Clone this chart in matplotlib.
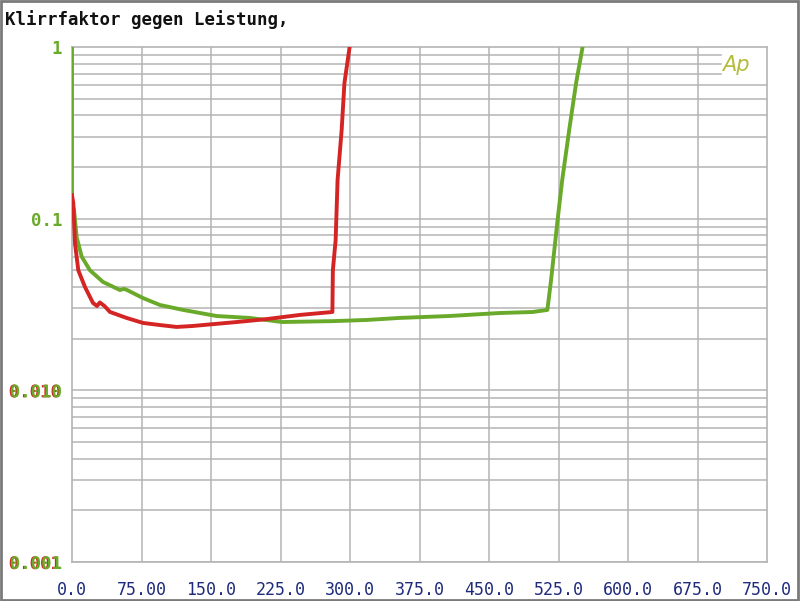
import matplotlib
matplotlib.use("Agg")
import matplotlib.pyplot as plt
import matplotlib.patheffects as pe
from matplotlib.patches import Rectangle
import numpy as np

# Data (power in W, THD as fraction)
red_x = [0, 1.4, 3.2, 6.8, 14, 22.6, 27, 30, 35, 41, 59, 76.5, 95, 113, 130, 156, 178, 210, 246, 281,
         281.5, 284.5, 286.6, 291, 294, 299.6]
red_y = [0.137, 0.123, 0.072, 0.050, 0.040, 0.0323, 0.031, 0.0325, 0.031, 0.0286, 0.0264, 0.0247, 0.0240,
         0.0234, 0.0237, 0.0244, 0.025, 0.026, 0.0275, 0.0286,
         0.050, 0.075, 0.168, 0.329, 0.617, 1.0]

green_x = [0, 0, 2.2, 5, 10.5, 19.4, 33.4, 51.7, 56, 59, 76.5, 95, 120, 156, 192, 227, 281, 318, 353,
           407, 461, 497, 513, 517, 524, 529, 537, 544, 551]
green_y = [1.0, 0.125, 0.112, 0.078, 0.060, 0.050, 0.0428, 0.0384, 0.0390, 0.0385, 0.0345, 0.0314, 0.0294,
           0.0271, 0.0264, 0.0250, 0.0253, 0.0257, 0.0264, 0.0271, 0.0282, 0.0286, 0.0294,
           0.044, 0.098, 0.168, 0.342, 0.617, 1.0]

x_ticks = [0, 75, 150, 225, 300, 375, 450, 525, 600, 675, 750]
x_labels = ["0.0", "75.00", "150.0", "225.0", "300.0", "375.0", "450.0", "525.0", "600.0", "675.0", "750.0"]
y_ticks = [1, 0.1, 0.01, 0.001]
y_labels = ["1", "0.1", "0.010", "0.001"]

title = "Klirrfaktor gegen Leistung,"

RED = "#d42424"
GREEN = "#6aaa2a"
GRID = "#b4b4b4"

fig = plt.figure(figsize=(8, 6.01), dpi=100)
ax = fig.add_axes([72/800, 39/601, (767-72)/800, (562-47)/601])
ax.set_yscale("log")
ax.set_xlim(0, 750)
ax.set_ylim(0.001, 1)

# grid
for xv in x_ticks[1:-1]:
    ax.axvline(xv, color=GRID, lw=1.1, zorder=1)
for dec in [0.001, 0.01, 0.1]:
    for m in range(2, 10):
        yv = dec * m
        if dec == 0.1 and m >= 7:
            ax.axhline(yv, xmin=0, xmax=700/750, color=GRID, lw=1.1, zorder=1)
        else:
            ax.axhline(yv, color=GRID, lw=1.1, zorder=1)
    ax.axhline(dec, color=GRID, lw=1.1, zorder=1)

for s in ax.spines.values():
    s.set_color(GRID)
    s.set_linewidth(1.2)

ax.plot(green_x, green_y, color=GREEN, lw=2.8, zorder=3, solid_joinstyle="round")
ax.plot(red_x, red_y, color=RED, lw=2.8, zorder=4, solid_joinstyle="round")

ax.set_xticks(x_ticks)
ax.set_xticklabels(x_labels, family="DejaVu Sans Mono", fontsize=12, color="#1e2a7c")
ax.set_yticks(y_ticks)
ax.set_yticklabels(y_labels, family="DejaVu Sans Mono", fontsize=12.5, color=GREEN, fontweight="bold")
ax.yaxis.set_minor_locator(matplotlib.ticker.NullLocator())
ax.tick_params(axis="both", length=0)
ax.tick_params(axis="y", pad=7)
ax.tick_params(axis="x", pad=14)
for lab in ax.get_yticklabels()[2:]:
    lab.set_path_effects([pe.withSimplePatchShadow(offset=(-0.8, 0), shadow_rgbFace=RED, alpha=1)])

fig.text(5/800, 1 - 20/601, title, family="DejaVu Sans Mono", fontsize=12.5, fontweight="bold",
         color="#111111", va="center", ha="left")

ax.text(0.955, 0.965, "Ap", transform=ax.transAxes, fontsize=15, color="#b4bc3c", style="italic",
        family="DejaVu Sans", fontweight="light", ha="center", va="center")

fig.patches.append(Rectangle((0.001, 0.002), 0.996, 0.996, transform=fig.transFigure, fill=False,
                             edgecolor="#7a7a7a", lw=2))

fig.savefig("out.png", dpi=100)
